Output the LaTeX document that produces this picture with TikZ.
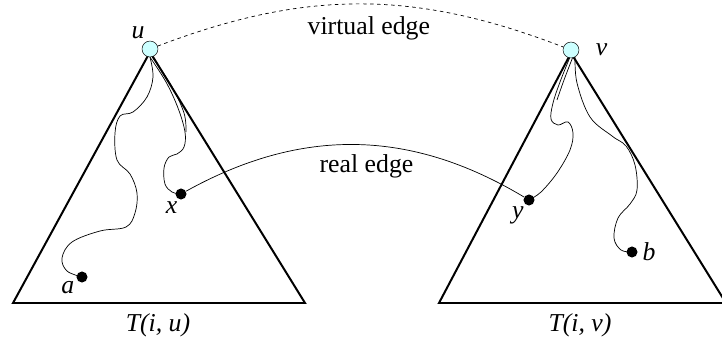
\documentclass[tikz,border=0pt]{standalone}
\usepackage{fontspec}
\setmainfont{Liberation Serif}
\usepackage{xcolor}
\definecolor{rootcyan}{RGB}{204,255,255}
\usetikzlibrary{positioning}
\tikzset{
  rootnode/.style={circle, draw, thin, fill=rootcyan,
    minimum size=13.6pt, inner sep=0pt},
  leafdot/.style={circle, fill=black, minimum size=9.4pt, inner sep=0pt},
  lbl/.style={font=\fontsize{22}{26}\selectfont\itshape, inner sep=1pt},
  edgetext/.style={font=\fontsize{22}{26}\selectfont},
  tri/.style={line width=1.7pt, line join=miter},
  wigl/.style={line width=0.6pt},
}

\begin{document}
\begin{tikzpicture}[x=0.03cm, y=-0.03cm]
  \useasboundingbox (0,0) rectangle (722,337);

  % Triangles (subtrees)
  \coordinate (uroot) at (150,49);
  \coordinate (vroot) at (571,50);
  \draw[tri] (150,52) -- (13,303) -- (305,303) -- cycle;
  \draw[tri] (571,53) -- (439,303) -- (726,303) -- cycle;
  \node[lbl] (tu) at (158,325) {T(i, u)};
  \node[lbl] (tv) at (580,325) {T(i, v)};

  % Roots
  \node[rootnode, label={[lbl, label distance=1pt]115:u}] (u) at (uroot) {};
  \node[rootnode, label={[lbl, label distance=13pt]0:v}] (v) at (vroot) {};

  % Leaves
  \node[leafdot, label={[lbl, label distance=1pt]205:a}] (a) at (82,277) {};
  \node[leafdot, label={[lbl, label distance=1pt]250:x}] (x) at (181,194) {};
  \node[leafdot, label={[lbl, label distance=1pt]235:y}] (y) at (529,200) {};
  \node[leafdot, label={[lbl, label distance=3pt]0:b}] (b) at (632,252) {};

  % Tree paths
  \draw[wigl] plot[smooth, tension=0.6] coordinates {(u.south) (153,77) (147,97)
    (133,112) (120,116) (115,133) (117,160) (130,174) (137,193) (135,213)
    (126,227) (100,231) (72,242) (62,258) (67,271) (a)};
  \draw[wigl] plot[smooth, tension=0.6] coordinates {(u.south) (166,82) (178,108)
    (185,132) (184,147) (177,154) (169,157) (164,168) (165,184) (172,192) (x)};
  \draw[wigl] plot[smooth, tension=0.6] coordinates {(u.-75) (171,85) (184,113)
    (186,132)};
  \draw[wigl] plot[smooth, tension=0.6] coordinates {(v.-100) (560,82) (553,103)
    (551,119) (558,125) (568,122) (573,133) (570,150) (557,173) (541,192) (y)};
  \draw[wigl] plot[smooth, tension=0.6] coordinates {(v.-80) (564,80) (557,100)};
  \draw[wigl] plot[smooth, tension=0.6] coordinates {(v.-60) (577,83) (590,117)
    (612,136) (626,146) (635,165) (637,190) (630,204) (618,218) (614,238)
    (621,250) (b)};

  % Edges between the subtrees
  \draw[wigl, dashed] (u) to[bend left=21]
    node[midway, below=7pt, xshift=7pt, edgetext] (vlab) {virtual edge} (v);
  \draw[wigl] (x) to[bend left=30]
    node[midway, below=5pt, xshift=9pt, edgetext] (rlab) {real edge} (y);
\end{tikzpicture}
\end{document}
